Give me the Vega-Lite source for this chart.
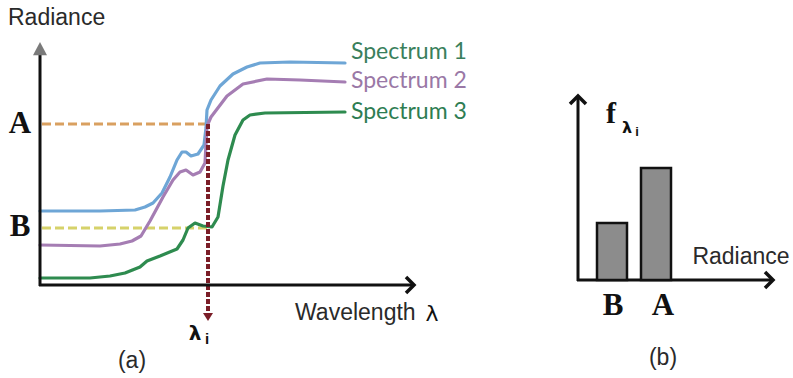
{
  "$schema": "https://vega.github.io/schema/vega-lite/v6.json",
  "width": 793,
  "height": 378,
  "autosize": {"type": "fit", "contains": "padding"},
  "padding": 0,
  "background": "white",
  "config": {"view": {"stroke": null}},
  "resolve": {"scale": {"color": "independent"}},
  "datasets": {
    "curves": [
      {"s": "Spectrum 1", "i": 1, "x": 40, "y": 211},
      {"s": "Spectrum 1", "i": 2, "x": 100, "y": 211},
      {"s": "Spectrum 1", "i": 3, "x": 135, "y": 210},
      {"s": "Spectrum 1", "i": 4, "x": 145, "y": 207},
      {"s": "Spectrum 1", "i": 5, "x": 153, "y": 203},
      {"s": "Spectrum 1", "i": 6, "x": 162, "y": 193},
      {"s": "Spectrum 1", "i": 7, "x": 170, "y": 177},
      {"s": "Spectrum 1", "i": 8, "x": 177, "y": 160},
      {"s": "Spectrum 1", "i": 9, "x": 182, "y": 152},
      {"s": "Spectrum 1", "i": 10, "x": 186, "y": 152},
      {"s": "Spectrum 1", "i": 11, "x": 191, "y": 156},
      {"s": "Spectrum 1", "i": 12, "x": 198, "y": 154},
      {"s": "Spectrum 1", "i": 13, "x": 204, "y": 145},
      {"s": "Spectrum 1", "i": 14, "x": 206, "y": 128},
      {"s": "Spectrum 1", "i": 15, "x": 207, "y": 110},
      {"s": "Spectrum 1", "i": 16, "x": 211, "y": 100},
      {"s": "Spectrum 1", "i": 17, "x": 220, "y": 86},
      {"s": "Spectrum 1", "i": 18, "x": 233, "y": 74},
      {"s": "Spectrum 1", "i": 19, "x": 247, "y": 67},
      {"s": "Spectrum 1", "i": 20, "x": 260, "y": 63},
      {"s": "Spectrum 1", "i": 21, "x": 290, "y": 62},
      {"s": "Spectrum 1", "i": 22, "x": 345, "y": 63},
      {"s": "Spectrum 2", "i": 1, "x": 40, "y": 245},
      {"s": "Spectrum 2", "i": 2, "x": 100, "y": 246},
      {"s": "Spectrum 2", "i": 3, "x": 120, "y": 244},
      {"s": "Spectrum 2", "i": 4, "x": 132, "y": 241},
      {"s": "Spectrum 2", "i": 5, "x": 141, "y": 236},
      {"s": "Spectrum 2", "i": 6, "x": 150, "y": 221},
      {"s": "Spectrum 2", "i": 7, "x": 163, "y": 197},
      {"s": "Spectrum 2", "i": 8, "x": 173, "y": 180},
      {"s": "Spectrum 2", "i": 9, "x": 180, "y": 172},
      {"s": "Spectrum 2", "i": 10, "x": 186, "y": 170},
      {"s": "Spectrum 2", "i": 11, "x": 193, "y": 175},
      {"s": "Spectrum 2", "i": 12, "x": 200, "y": 172},
      {"s": "Spectrum 2", "i": 13, "x": 205, "y": 163},
      {"s": "Spectrum 2", "i": 14, "x": 207, "y": 126},
      {"s": "Spectrum 2", "i": 15, "x": 211, "y": 117},
      {"s": "Spectrum 2", "i": 16, "x": 227, "y": 96},
      {"s": "Spectrum 2", "i": 17, "x": 243, "y": 84},
      {"s": "Spectrum 2", "i": 18, "x": 267, "y": 79},
      {"s": "Spectrum 2", "i": 19, "x": 300, "y": 80},
      {"s": "Spectrum 2", "i": 20, "x": 345, "y": 82},
      {"s": "Spectrum 3", "i": 1, "x": 40, "y": 278},
      {"s": "Spectrum 3", "i": 2, "x": 90, "y": 278},
      {"s": "Spectrum 3", "i": 3, "x": 110, "y": 276},
      {"s": "Spectrum 3", "i": 4, "x": 125, "y": 273},
      {"s": "Spectrum 3", "i": 5, "x": 140, "y": 267},
      {"s": "Spectrum 3", "i": 6, "x": 147, "y": 261},
      {"s": "Spectrum 3", "i": 7, "x": 160, "y": 256},
      {"s": "Spectrum 3", "i": 8, "x": 177, "y": 249},
      {"s": "Spectrum 3", "i": 9, "x": 183, "y": 240},
      {"s": "Spectrum 3", "i": 10, "x": 188, "y": 228},
      {"s": "Spectrum 3", "i": 11, "x": 195, "y": 223},
      {"s": "Spectrum 3", "i": 12, "x": 203, "y": 226},
      {"s": "Spectrum 3", "i": 13, "x": 212, "y": 227},
      {"s": "Spectrum 3", "i": 14, "x": 218, "y": 217},
      {"s": "Spectrum 3", "i": 15, "x": 223, "y": 186},
      {"s": "Spectrum 3", "i": 16, "x": 228, "y": 160},
      {"s": "Spectrum 3", "i": 17, "x": 235, "y": 135},
      {"s": "Spectrum 3", "i": 18, "x": 243, "y": 120},
      {"s": "Spectrum 3", "i": 19, "x": 250, "y": 115},
      {"s": "Spectrum 3", "i": 20, "x": 265, "y": 113},
      {"s": "Spectrum 3", "i": 21, "x": 345, "y": 112}
    ],
    "labels": [
      {"s": "Spectrum 1", "x": 351, "y": 52},
      {"s": "Spectrum 2", "x": 351, "y": 81},
      {"s": "Spectrum 3", "x": 351, "y": 112}
    ]
  },
  "encoding": {
    "x": {"field": "x", "type": "quantitative", "scale": {"domain": [0, 793], "nice": false, "zero": false}, "axis": null},
    "y": {"field": "y", "type": "quantitative", "scale": {"domain": [0, 378], "nice": false, "zero": false, "reverse": true}, "axis": null}
  },
  "layer": [
    {
      "data": {"values": [
        {"g": "A", "x": 42, "x2": 207, "y": 124, "y2": 124},
        {"g": "B", "x": 42, "x2": 207, "y": 228, "y2": 228}
      ]},
      "mark": {"type": "rule", "strokeWidth": 3, "strokeDash": [9, 4]},
      "encoding": {
        "x2": {"field": "x2"},
        "y2": {"field": "y2"},
        "color": {"field": "g", "type": "nominal", "scale": {"domain": ["A", "B"], "range": ["#d9a060", "#d6d26a"]}, "legend": null}
      }
    },
    {
      "data": {"name": "curves"},
      "mark": {"type": "line", "strokeWidth": 3.2, "strokeJoin": "round", "strokeCap": "round", "interpolate": "linear"},
      "encoding": {
        "order": {"field": "i", "type": "quantitative"},
        "color": {"field": "s", "type": "nominal", "scale": {"domain": ["Spectrum 1", "Spectrum 2", "Spectrum 3"], "range": ["#6ea6d6", "#a57db3", "#2e8b4f"]}, "legend": null}
      }
    },
    {
      "data": {"values": [{"x": 208, "x2": 208, "y": 124, "y2": 312}]},
      "mark": {"type": "rule", "strokeWidth": 4, "strokeDash": [5, 2], "color": "#7b1e28"},
      "encoding": {"x2": {"field": "x2"}, "y2": {"field": "y2"}}
    },
    {
      "data": {"values": [{"x": 208, "y": 321}]},
      "mark": {"type": "point", "shape": "M0,0L-1,-1.6L1,-1.6Z", "size": 100, "filled": true, "fill": "#7b1e28", "opacity": 1, "strokeWidth": 0},
      "encoding": {}
    },
    {
      "data": {"values": [
        {"x": 40, "x2": 40, "y": 52, "y2": 286},
        {"x": 39, "x2": 412, "y": 285, "y2": 285},
        {"x": 578, "x2": 578, "y": 98, "y2": 281},
        {"x": 577, "x2": 771, "y": 280, "y2": 280}
      ]},
      "mark": {"type": "rule", "strokeWidth": 3, "color": "#111111"},
      "encoding": {"x2": {"field": "x2"}, "y2": {"field": "y2"}}
    },
    {
      "data": {"values": [{"x": 414, "y": 285}, {"x": 773, "y": 280}]},
      "mark": {"type": "point", "shape": "M-1,-1L0,0L-1,1", "size": 256, "filled": false, "stroke": "#111111", "strokeWidth": 3.5, "opacity": 1},
      "encoding": {}
    },
    {
      "data": {"values": [{"x": 578, "y": 96}]},
      "mark": {"type": "point", "shape": "M-1,1L0,0L1,1", "size": 256, "filled": false, "stroke": "#111111", "strokeWidth": 3.5, "opacity": 1},
      "encoding": {}
    },
    {
      "data": {"values": [{"x": 40, "y": 42}]},
      "mark": {"type": "point", "shape": "M0,0L-1,1.9L1,1.9Z", "size": 196, "filled": true, "fill": "#7a7a7a", "opacity": 1, "strokeWidth": 0},
      "encoding": {}
    },
    {
      "data": {"values": [
        {"k": "B", "x": 597, "x2": 627, "y": 223, "y2": 280},
        {"k": "A", "x": 641, "x2": 671, "y": 168, "y2": 280}
      ]},
      "mark": {"type": "rect", "fill": "#8c8c8c", "stroke": "#111111", "strokeWidth": 2.5},
      "encoding": {"x2": {"field": "x2"}, "y2": {"field": "y2"}}
    },
    {
      "data": {"name": "labels"},
      "mark": {"type": "text", "font": "Lato", "fontSize": 23, "align": "left", "baseline": "middle"},
      "encoding": {
        "text": {"field": "s"},
        "color": {"field": "s", "type": "nominal", "scale": {"domain": ["Spectrum 1", "Spectrum 2", "Spectrum 3"], "range": ["#3a7f5c", "#9a78a6", "#2e7d52"]}, "legend": null}
      }
    },
    {
      "data": {"values": [
        {"t": "Radiance", "x": 8, "y": 18},
        {"t": "Wavelength", "x": 295, "y": 313}
      ]},
      "mark": {"type": "text", "font": "Liberation Sans", "fontSize": 23, "align": "left", "baseline": "middle", "color": "#2a2a2a"},
      "encoding": {"text": {"field": "t"}}
    },
    {
      "data": {"values": [
        {"t": "Radiance", "x": 741, "y": 257},
        {"t": "(a)", "x": 132, "y": 361},
        {"t": "(b)", "x": 663, "y": 358}
      ]},
      "mark": {"type": "text", "font": "Liberation Sans", "fontSize": 23, "align": "center", "baseline": "middle", "color": "#2a2a2a"},
      "encoding": {"text": {"field": "t"}}
    },
    {
      "data": {"values": [
        {"t": "A", "x": 20, "y": 124},
        {"t": "B", "x": 20, "y": 227},
        {"t": "B", "x": 613, "y": 306},
        {"t": "A", "x": 663, "y": 306}
      ]},
      "mark": {"type": "text", "font": "Liberation Serif", "fontWeight": "bold", "fontSize": 31, "align": "center", "baseline": "middle", "color": "#111111"},
      "encoding": {"text": {"field": "t"}}
    },
    {
      "data": {"values": [{"t": "f", "x": 611, "y": 123}]},
      "mark": {"type": "text", "font": "Liberation Serif", "fontWeight": "bold", "fontSize": 30, "align": "center", "baseline": "alphabetic", "color": "#111111"},
      "encoding": {"text": {"field": "t"}}
    },
    {
      "data": {"values": [{"t": "λ", "x": 627, "y": 133}]},
      "mark": {"type": "text", "font": "DejaVu Sans", "fontWeight": "bold", "fontSize": 16, "align": "center", "baseline": "alphabetic", "color": "#111111"},
      "encoding": {"text": {"field": "t"}}
    },
    {
      "data": {"values": [{"t": "i", "x": 637, "y": 136}]},
      "mark": {"type": "text", "font": "Liberation Sans", "fontWeight": "bold", "fontSize": 13, "align": "center", "baseline": "alphabetic", "color": "#111111"},
      "encoding": {"text": {"field": "t"}}
    },
    {
      "data": {"values": [{"t": "λ", "x": 195, "y": 340}]},
      "mark": {"type": "text", "font": "DejaVu Sans", "fontWeight": "bold", "fontSize": 20, "align": "center", "baseline": "alphabetic", "color": "#111111"},
      "encoding": {"text": {"field": "t"}}
    },
    {
      "data": {"values": [{"t": "λ", "x": 432, "y": 321}]},
      "mark": {"type": "text", "font": "DejaVu Sans", "fontSize": 22, "align": "center", "baseline": "alphabetic", "color": "#111111"},
      "encoding": {"text": {"field": "t"}}
    },
    {
      "data": {"values": [{"t": "i", "x": 207, "y": 344}]},
      "mark": {"type": "text", "font": "Liberation Sans", "fontWeight": "bold", "fontSize": 15, "align": "center", "baseline": "alphabetic", "color": "#111111"},
      "encoding": {"text": {"field": "t"}}
    }
  ]
}
